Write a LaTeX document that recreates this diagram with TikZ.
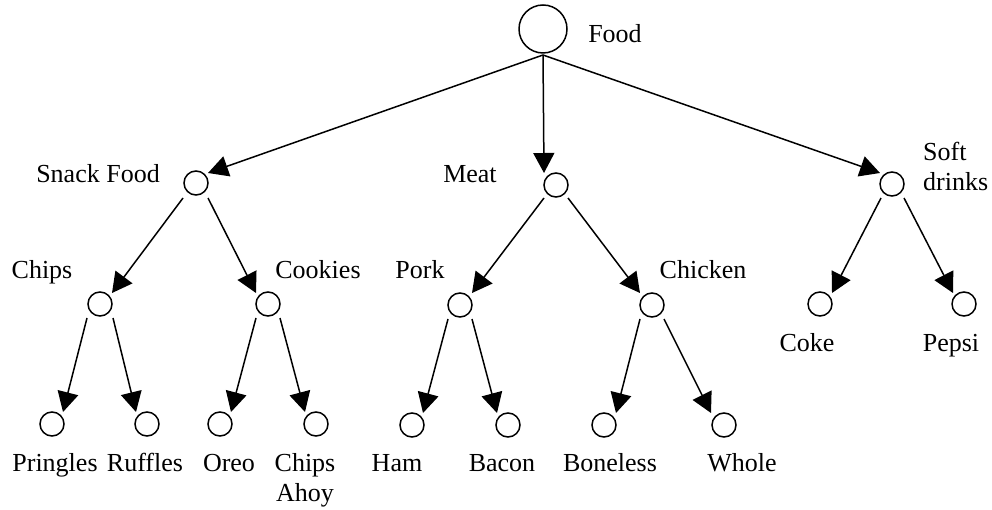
\documentclass[tikz,border=0pt]{standalone}
\usepackage{fontspec}
\setmainfont{Liberation Serif}
\usetikzlibrary{arrows.meta,calc}
\begin{document}
\begin{tikzpicture}[x=1pt,y=-1pt,
  every node/.style={font=\fontsize{26}{30}\selectfont},
  vert/.style={circle,draw,line width=1.5pt,minimum size=24pt,inner sep=0pt},
  root/.style={circle,draw,line width=1.5pt,minimum size=48pt,inner sep=0pt},
  lbl/.style={anchor=base,inner sep=0pt},
  arr/.style={line width=1.5pt,-{Triangle[length=20pt,width=21pt]}}]
\useasboundingbox (0,0) rectangle (992,510);
% vertices
\node[root] (food) at (543,29) {};
\node[vert] (snack) at (196,183) {};
\node[vert] (meat) at (556,185) {};
\node[vert] (soft) at (892,184) {};
\node[vert] (chips) at (100,304) {};
\node[vert] (cookies) at (268,304) {};
\node[vert] (pork) at (460,305) {};
\node[vert] (chicken) at (652,305) {};
\node[vert] (coke) at (820,304) {};
\node[vert] (pepsi) at (964,304) {};
\node[vert] (pringles) at (52,424) {};
\node[vert] (ruffles) at (147,424) {};
\node[vert] (oreo) at (220,424) {};
\node[vert] (ahoy) at (316,424) {};
\node[vert] (ham) at (412,425) {};
\node[vert] (bacon) at (508,425) {};
\node[vert] (boneless) at (604,425) {};
\node[vert] (whole) at (724,425) {};
% labels
\node[lbl] (lfood) at (615,43) {Food};
\node[lbl] (lsnack) at (98,183) {Snack Food};
\node[lbl] (lmeat) at (470,183) {Meat};
\node[lbl,anchor=base west] (lsoft) at (923,161) {Soft};
\node[lbl,anchor=base west] (ldrinks) at (923,191) {drinks};
\node[lbl] (lchips) at (42,279) {Chips};
\node[lbl] (lcookies) at (318,279) {Cookies};
\node[lbl] (lpork) at (420,279) {Pork};
\node[lbl] (lchicken) at (703,279) {Chicken};
\node[lbl] (lcoke) at (807,351) {Coke};
\node[lbl] (lpepsi) at (951,351) {Pepsi};
\node[lbl] (lpringles) at (55,471) {Pringles};
\node[lbl] (lruffles) at (145,471) {Ruffles};
\node[lbl] (loreo) at (229,471) {Oreo};
\node[lbl] (lchipsa) at (305,471) {Chips};
\node[lbl] (lahoy) at (305,501) {Ahoy};
\node[lbl] (lham) at (397,471) {Ham};
\node[lbl] (lbacon) at (502,471) {Bacon};
\node[lbl] (lboneless) at (610,471) {Boneless};
\node[lbl] (lwhole) at (742,471) {Whole};
% edges
\draw[arr] ($(food)+(0,26)$) -- ($(snack)+(12,-10)$);
\draw[arr] ($(food)+(0,26)$) -- ($(meat)+(-12,-12)$);
\draw[arr] ($(food)+(0,26)$) -- ($(soft)+(-12,-11)$);
\draw[arr] ($(snack)+(-13,15)$) -- ($(chips)+(12,-11)$);
\draw[arr] ($(snack)+(12,15)$) -- ($(cookies)+(-12,-11)$);
\draw[arr] ($(meat)+(-12,13)$) -- ($(pork)+(12,-12)$);
\draw[arr] ($(meat)+(12,13)$) -- ($(chicken)+(-12,-12)$);
\draw[arr] ($(soft)+(-11,14)$) -- ($(coke)+(12,-11)$);
\draw[arr] ($(soft)+(12,14)$) -- ($(pepsi)+(-11,-11)$);
\draw[arr] ($(chips)+(-13,14)$) -- ($(pringles)+(11,-12)$);
\draw[arr] ($(chips)+(13,14)$) -- ($(ruffles)+(-11,-12)$);
\draw[arr] ($(cookies)+(-12,14)$) -- ($(oreo)+(11,-12)$);
\draw[arr] ($(cookies)+(12,14)$) -- ($(ahoy)+(-11,-12)$);
\draw[arr] ($(pork)+(-12,14)$) -- ($(ham)+(11,-12)$);
\draw[arr] ($(pork)+(12,14)$) -- ($(bacon)+(-11,-12)$);
\draw[arr] ($(chicken)+(-12,14)$) -- ($(boneless)+(12,-12)$);
\draw[arr] ($(chicken)+(12,14)$) -- ($(whole)+(-13,-12)$);
\end{tikzpicture}
\end{document}
